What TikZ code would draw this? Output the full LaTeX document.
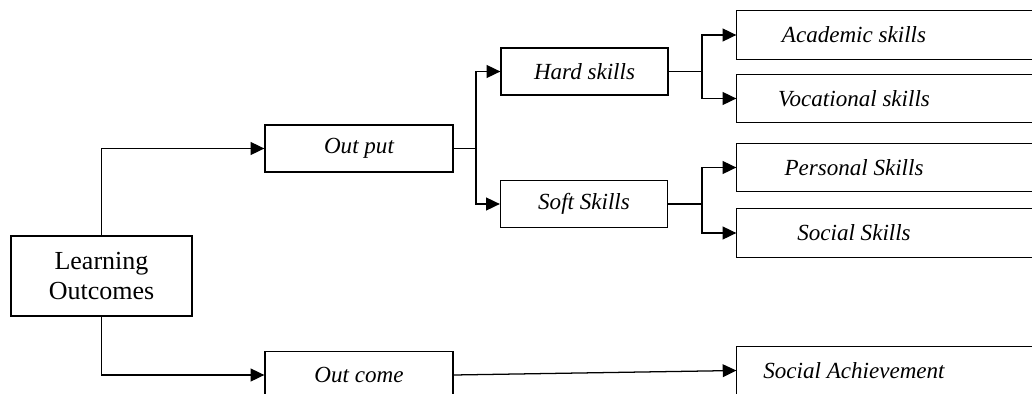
\documentclass[tikz,border=0pt]{standalone}
\usepackage{fontspec}
\setmainfont{Liberation Serif}
\usetikzlibrary{arrows.meta}
\begin{document}
\begin{tikzpicture}[x=0.025cm,y=-0.025cm,line width=0.9pt,
    box/.style={draw,rectangle,inner sep=0pt,minimum height=1.175cm,font=\fontsize{16.4}{19}\selectfont\itshape},
    mid/.style={box,minimum width=4.7cm},
    skill/.style={box,minimum width=4.175cm},
    leaf/.style={box,draw=none,minimum width=5.85cm},
    arr/.style={-{Triangle[length=3.4mm,width=3.2mm]}}]
\clip (0,0) rectangle (1032,394);

\node[draw,minimum width=4.525cm,minimum height=2cm,align=center,
      font=\fontsize{18.5}{22}\selectfont] (lo) at (101.5,276) {Learning\\Outcomes};

\node[mid] (outp) at (359,148.5) {Out put};
\node[mid] (outc) at (359,375) {Out come};

\node[skill] (hard) at (584.5,71.5) {Hard skills};
\node[skill] (soft) at (584,204) {Soft Skills};

\node[leaf] (acad) at (854,35) {Academic skills};
\node[leaf] (voc) at (854,98.5) {Vocational skills};
\node[leaf] (pers) at (854,167.5) {Personal Skills};
\node[leaf] (soc) at (854,233) {Social Skills};
\node[leaf] (ach) at (854,370.5) {Social Achievement};
% boxes run on past the right edge
\foreach \n in {acad,voc,pers,soc,ach}
    \draw (\n.north west) rectangle ([xshift=2cm]\n.south east);

\coordinate (j1) at (476,148.5);
\coordinate (j2) at (702,71.5);
\coordinate (j3) at (702,204);

\draw[arr] (lo.north) |- (outp.west);
\draw[arr] (lo.south) |- (outc.west);
\draw (outp.east) -- (j1);
\draw[arr] (j1) |- (hard.west);
\draw[arr] (j1) |- (soft.west);
\draw (hard.east) -- (j2);
\draw[arr] (j2) |- (acad.west);
\draw[arr] (j2) |- (voc.west);
\draw (soft.east) -- (j3);
\draw[arr] (j3) |- (pers.west);
\draw[arr] (j3) |- (soc.west);
\draw[arr] (outc.east) -- (ach.west);
\end{tikzpicture}
\end{document}
